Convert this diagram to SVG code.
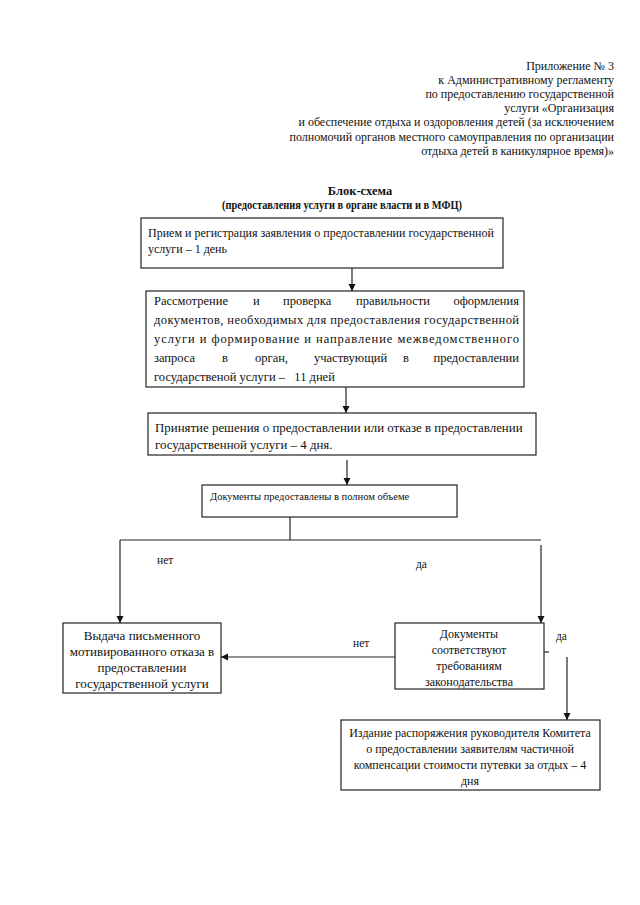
<svg xmlns="http://www.w3.org/2000/svg" width="640" height="905" viewBox="0 0 640 905">
<style>
text{font-family:"Liberation Serif","Times New Roman","DejaVu Serif",serif;fill:#111}
.h{font-size:12px;text-anchor:end}
.t{font-size:12.5px;font-weight:bold;text-anchor:middle}
.b{fill:#fff;stroke:#222;stroke-width:1.2}
.f13{font-size:12.5px}
.f135{font-size:12.9px}
.f12{font-size:12px}
.f11{font-size:10.5px}
.f5{font-size:13px}
.c{text-anchor:middle}
.e{text-anchor:end}
.ln{fill:none;stroke:#222;stroke-width:1.2}
.lbl{font-size:11.5px}
</style>
<defs>
<marker id="ar" markerUnits="userSpaceOnUse" markerWidth="8" markerHeight="8" refX="7" refY="3.5" orient="auto">
<path d="M0,0 L7,3.5 L0,7 z" fill="#111"/>
</marker>
</defs>
<rect width="640" height="905" fill="#fff"/>
<g id="header">
<text class="h" x="614" y="70">Приложение № 3</text>
<text class="h" x="614" y="84">к Административному регламенту</text>
<text class="h" x="614" y="98">по предоставлению государственной</text>
<text class="h" x="614" y="112">услуги «Организация</text>
<text class="h" x="614" y="126">и обеспечение отдыха и оздоровления детей (за исключением</text>
<text class="h" x="614" y="141">полномочий органов местного самоуправления по организации</text>
<text class="h" x="614" y="155">отдыха детей в каникулярное время)»</text>
</g>
<g id="title">
<text class="t" x="360" y="195">Блок-схема</text>
<text class="t" x="342" y="209" style="font-size:12px" textLength="240" lengthAdjust="spacingAndGlyphs">(предоставления услуги в органе власти и в МФЦ)</text>
</g>
<g id="connectors">
<line class="ln" x1="352" y1="268" x2="352" y2="291" marker-end="url(#ar)"/>
<line class="ln" x1="346" y1="387" x2="346" y2="413" marker-end="url(#ar)"/>
<line class="ln" x1="347" y1="460" x2="347" y2="485" marker-end="url(#ar)"/>
<polyline class="ln" points="290,517 290,540"/>
<line class="ln" x1="120" y1="540" x2="541" y2="540"/>
<polyline class="ln" points="120,540 120,623" marker-end="url(#ar)"/>
<polyline class="ln" points="541,545 541,623" marker-end="url(#ar)"/>
<line class="ln" x1="395" y1="657" x2="221" y2="657" marker-end="url(#ar)"/>
<line class="ln" x1="544" y1="652" x2="549" y2="652"/>
<line class="ln" x1="567" y1="657" x2="567" y2="720" marker-end="url(#ar)"/>
<text class="lbl" x="157" y="564">нет</text>
<text class="lbl" x="416" y="568">да</text>
<text class="lbl" x="353" y="647">нет</text>
<text class="lbl" x="556" y="640">да</text>
</g>
<g id="n1">
<rect class="b" x="141" y="218" width="362" height="50"/>
<text class="f12" x="148" y="237">Прием и регистрация заявления о предоставлении государственной</text>
<text class="f12" x="148" y="253">услуги – 1 день</text>
</g>
<g id="n2">
<rect class="b" x="146" y="291" width="378" height="96"/>
<text class="f13" x="154" y="305">Рассмотрение</text>
<text class="f13" x="253" y="305">и</text>
<text class="f13" x="283" y="305">проверка</text>
<text class="f13" x="356" y="305">правильности</text>
<text class="f13 e" x="519" y="305">оформления</text>
<text class="f13" x="154" y="324" textLength="365" lengthAdjust="spacing">документов, необходимых для предоставления государственной</text>
<text class="f13" x="154" y="343" textLength="365" lengthAdjust="spacing">услуги и формирование и направление межведомственного</text>
<text class="f13" x="154" y="362">запроса</text>
<text class="f13" x="222" y="362">в</text>
<text class="f13" x="255" y="362">орган,</text>
<text class="f13" x="314" y="362">участвующий</text>
<text class="f13" x="403" y="362">в</text>
<text class="f13 e" x="519" y="362">предоставлении</text>
<text class="f13" x="154" y="381" xml:space="preserve">государственой услуги –   11 дней</text>
</g>
<g id="n3">
<rect class="b" x="148" y="413" width="388" height="42"/>
<text class="f135" x="155" y="432">Принятие решения о предоставлении или отказе в предоставлении</text>
<text class="f135" x="155" y="449">государственной услуги – 4 дня.</text>
</g>
<g id="n4">
<rect class="b" x="202" y="485" width="255" height="32"/>
<text class="f11" x="210" y="500">Документы предоставлены в полном объеме</text>
</g>
<g id="n5">
<rect class="b" x="63" y="623" width="158" height="70"/>
<text class="f5 c" x="142" y="640">Выдача письменного</text>
<text class="f5 c" x="142" y="656">мотивированного отказа в</text>
<text class="f5 c" x="142" y="672">предоставлении</text>
<text class="f5 c" x="142" y="688">государственной услуги</text>
</g>
<g id="n6">
<rect class="b" x="395" y="623" width="149" height="66"/>
<text class="f12 c" x="469" y="638">Документы</text>
<text class="f12 c" x="469" y="654">соответствуют</text>
<text class="f12 c" x="469" y="670">требованиям</text>
<text class="f12 c" x="469" y="686">законодательства</text>
</g>
<g id="n7">
<rect class="b" x="341" y="720" width="259" height="70"/>
<text class="f12 c" x="470" y="737">Издание распоряжения руководителя Комитета</text>
<text class="f12 c" x="470" y="753">о предоставлении заявителям частичной</text>
<text class="f12 c" x="470" y="769">компенсации стоимости путевки за отдых – 4</text>
<text class="f12 c" x="470" y="785">дня</text>
</g>
</svg>
